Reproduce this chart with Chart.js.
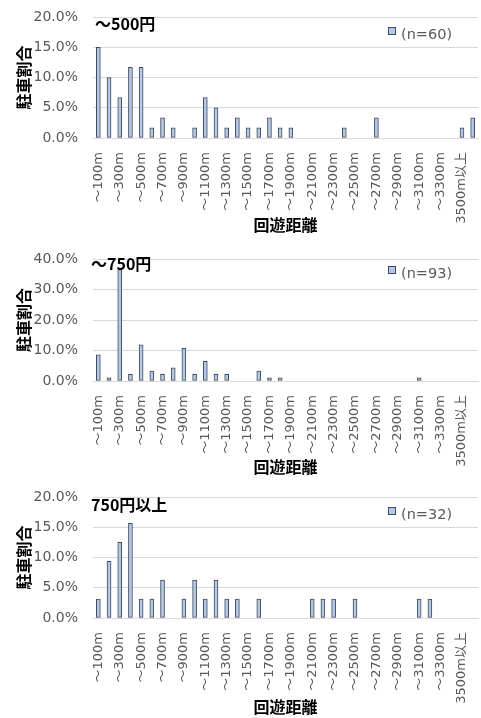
<!DOCTYPE html>
<html>
<head>
<meta charset="utf-8">
<script src="https://cdn.jsdelivr.net/npm/chart.js@4.4.1/dist/chart.umd.min.js"></script>
<style>
    body { margin: 0; background: #fff; }
    .panel { position: absolute; left: 0; width: 481px; }
</style>
</head>
<body>
<div class="panel" style="top:0;height:242px"><canvas id="chart500"></canvas></div>
<div class="panel" style="top:242px;height:238px"><canvas id="chart750"></canvas></div>
<div class="panel" style="top:480px;height:238px"><canvas id="chartOver"></canvas></div>
<script>
// categories (回遊距離)
const distanceLabels = [
    '～100m', '～200m', '～300m', '～400m', '～500m', '～600m', '～700m', '～800m', '～900m', '～1000m',
    '～1100m', '～1200m', '～1300m', '～1400m', '～1500m', '～1600m', '～1700m', '～1800m', '～1900m', '～2000m',
    '～2100m', '～2200m', '～2300m', '～2400m', '～2500m', '～2600m', '～2700m', '～2800m', '～2900m', '～3000m',
    '～3100m', '～3200m', '～3300m', '～3400m', '3500m以上', ''
];

// 駐車割合 (%) per price band
const upTo500 = [
    15.0, 10.0, 6.67, 11.67, 11.67, 1.67, 3.33, 1.67, 0, 1.67,
    6.67, 5.0, 1.67, 3.33, 1.67, 1.67, 3.33, 1.67, 1.67, 0,
    0, 0, 0, 1.67, 0, 0, 3.33, 0, 0, 0,
    0, 0, 0, 0, 1.67, 3.33
];
const upTo750 = [
    8.6, 1.08, 36.56, 2.15, 11.83, 3.23, 2.15, 4.3, 10.75, 2.15,
    6.45, 2.15, 2.15, 0, 0, 3.23, 1.08, 1.08, 0, 0,
    0, 0, 0, 0, 0, 0, 0, 0, 0, 0,
    1.08, 0, 0, 0, 0, 0
];
const over750 = [
    3.13, 9.38, 12.5, 15.63, 3.13, 3.13, 6.25, 0, 3.13, 6.25,
    3.13, 6.25, 3.13, 3.13, 0, 3.13, 0, 0, 0, 0,
    3.13, 3.13, 3.13, 0, 3.13, 0, 0, 0, 0, 0,
    3.13, 3.13, 0, 0, 0, 0
];

const panelTitles = ['～500円', '～750円', '750円以上'];
const sampleSizes = ['(n=60)', '(n=93)', '(n=32)'];
const yMax = [20, 40, 20];
const yStep = [5, 10, 5];

const barFill = '#b4c7e7';
const barEdge = '#404a5a';
const gridColor = '#d9d9d9';
const tickColor = '#595959';
const latinFont = '"DejaVu Sans", "Noto Sans CJK JP"';
const cjkFont = '"Noto Sans CJK JP"';

// draws the band name and the (n=..) legend inside the plot area
const panelLabels = {
    id: 'panelLabels',
    afterDraw(chart, args, opts) {
        const { ctx, chartArea } = chart;
        const ds = chart.data.datasets[0];
        ctx.save();
        ctx.textBaseline = 'middle';
        ctx.fillStyle = '#000';
        ctx.font = 'bold 16px ' + cjkFont;
        ctx.fillText(opts.title, chartArea.left + opts.titleDx, chartArea.top + opts.titleDy);

        const sx = chartArea.right - 90;
        const sy = chartArea.top + opts.legendDy;
        ctx.fillStyle = ds.backgroundColor;
        ctx.fillRect(sx, sy, 8, 8);
        ctx.strokeStyle = ds.borderColor;
        ctx.lineWidth = 1;
        ctx.strokeRect(sx + 0.5, sy + 0.5, 7, 7);
        ctx.fillStyle = tickColor;
        ctx.font = '14.5px ' + latinFont;
        ctx.fillText(ds.label, sx + 13, sy + 8);
        ctx.restore();
    }
};

function makePanel(canvasId, idx, values, layoutCfg) {
    const ctx = document.getElementById(canvasId).getContext('2d');
    return new Chart(ctx, {
        type: 'bar',
        data: {
            labels: distanceLabels,
            datasets: [{
                label: sampleSizes[idx],
                data: values,
                backgroundColor: barFill,
                borderColor: barEdge,
                borderWidth: 1,
                borderSkipped: false,
                barThickness: 4
            }]
        },
        options: {
            responsive: true,
            maintainAspectRatio: false,
            animation: false,
            layout: { autoPadding: false, padding: { top: layoutCfg.padTop, right: 3, left: 0, bottom: 0 } },
            plugins: {
                legend: { display: false },
                tooltip: { enabled: false },
                panelLabels: {
                    title: panelTitles[idx],
                    titleDx: layoutCfg.titleDx,
                    titleDy: layoutCfg.titleDy,
                    legendDy: layoutCfg.legendDy
                }
            },
            scales: {
                x: {
                    grid: { display: false },
                    border: { display: true, color: gridColor },
                    ticks: {
                        autoSkip: false,
                        minRotation: 90,
                        maxRotation: 90,
                        padding: 6,
                        color: tickColor,
                        font: { family: latinFont, size: 13 },
                        callback: (v, i) => (i % 2 === 0 ? distanceLabels[i] : '')
                    },
                    title: {
                        display: true,
                        text: '回遊距離',
                        color: '#000',
                        font: { family: cjkFont, size: 16, weight: 'bold' },
                        padding: { top: 0, bottom: layoutCfg.xTitlePad }
                    },
                    afterFit: s => {
                        s.height = layoutCfg.xHeight;
                        s.paddingLeft = 0;
                        s.paddingRight = 0;
                        s.paddingTop = 0;
                    }
                },
                y: {
                    min: 0,
                    max: yMax[idx],
                    grid: { color: gridColor, drawTicks: false },
                    border: { display: false },
                    ticks: {
                        stepSize: yStep[idx],
                        padding: 15,
                        color: tickColor,
                        font: { family: latinFont, size: 14 },
                        callback: v => v.toFixed(1) + '%'
                    },
                    title: {
                        display: true,
                        text: '駐車割合',
                        color: '#000',
                        font: { family: cjkFont, size: 16, weight: 'bold' },
                        padding: { top: 14, bottom: 0 }
                    },
                    afterFit: s => {
                        s.width = 93;
                        s.paddingTop = 0;
                        s.paddingBottom = 0;
                    }
                }
            }
        },
        plugins: [panelLabels]
    });
}

makePanel('chart500', 0, upTo500, { padTop: 17, xHeight: 104, xTitlePad: 7, titleDx: 2, titleDy: 7, legendDy: 10 });
makePanel('chart750', 1, upTo750, { padTop: 17, xHeight: 99, xTitlePad: 3, titleDx: -2, titleDy: 5, legendDy: 7 });
makePanel('chartOver', 2, over750, { padTop: 17, xHeight: 100, xTitlePad: 1, titleDx: -2, titleDy: 8, legendDy: 10 });
</script>
</body>
</html>
